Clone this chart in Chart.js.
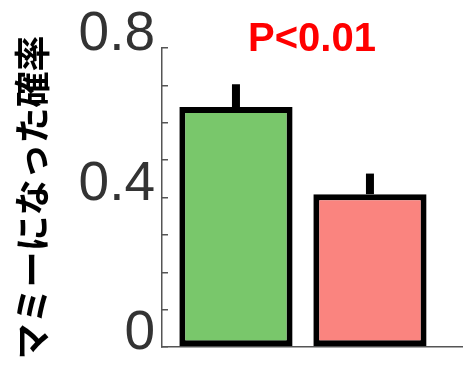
<!DOCTYPE html>
<html>
<head>
<meta charset="utf-8">
<script src="https://cdn.jsdelivr.net/npm/chart.js@4"></script>
<style>
  html, body { margin: 0; padding: 0; background: #fff; }
  #wrap { width: 471px; height: 368px; }
</style>
</head>
<body>
<div id="wrap"><canvas id="chart"></canvas></div>
<script>
// data
const groups = ['group1', 'group2'];
const means = [0.642, 0.409];
const errors = [0.061, 0.055];
const barColors = ['#79c76b', '#fa847f'];
const tickValues = [0, 0.4, 0.8];
const tickLabels = ['0', '0.4', '0.8'];
const yTitle = 'マミーになった確率';
const titleText = 'P<0.01';

// simple error bars drawn above each bar
const errorBars = {
  id: 'errorBars',
  afterDatasetsDraw(chart) {
    const ctx = chart.ctx;
    const yScale = chart.scales.y;
    const meta = chart.getDatasetMeta(0);
    ctx.save();
    ctx.strokeStyle = '#000';
    ctx.lineWidth = 8;
    meta.data.forEach((bar, i) => {
      const top = yScale.getPixelForValue(means[i] + errors[i]);
      ctx.beginPath();
      ctx.moveTo(bar.x, bar.y);
      ctx.lineTo(bar.x, top);
      ctx.stroke();
    });
    ctx.restore();
  }
};

const ctx = document.getElementById('chart').getContext('2d');
new Chart(ctx, {
  type: 'bar',
  data: {
    datasets: [{
      label: 'rate',
      data: groups.map((g, i) => ({ x: i, y: means[i] })),
      backgroundColor: barColors,
      borderColor: '#000',
      borderWidth: 6,
      borderSkipped: false,
      barPercentage: 0.845,
      categoryPercentage: 1
    }]
  },
  options: {
    responsive: true,
    maintainAspectRatio: false,
    animation: false,
    layout: { padding: { left: 0, right: 9, top: 0, bottom: 21 } },
    plugins: {
      legend: { display: false },
      tooltip: { enabled: false },
      title: {
        display: true,
        text: titleText,
        color: '#ff0000',
        fullSize: false,
        font: { family: 'Liberation Sans', size: 40, weight: 'bold' },
        padding: { top: 16, bottom: -16 }
      }
    },
    scales: {
      x: {
        type: 'linear',
        min: -0.552,
        max: 1.687,
        offset: false,
        afterBuildTicks(scale) {
          scale.ticks = groups.map((g, i) => ({ value: i }));
        },
        grid: { display: false, drawTicks: false },
        ticks: { display: false },
        border: { display: true, color: '#555', width: 1.5 }
      },
      y: {
        min: 0,
        max: 0.8,
        afterFit(scale) {
          scale.width = 162;
          scale.paddingTop = 0;
          scale.paddingBottom = 0;
        },
        grid: {
          drawOnChartArea: false,
          drawTicks: true,
          tickLength: -6,
          color: '#555',
          lineWidth: 1.5
        },
        border: { display: true, color: '#555', width: 1.5 },
        ticks: {
          stepSize: 0.1,
          autoSkip: false,
          padding: 13,
          labelOffset: -13,
          color: '#333',
          font: { family: 'Liberation Sans', size: 55 },
          callback(v) {
            const k = tickValues.findIndex(t => Math.abs(t - v) < 1e-9);
            return k >= 0 ? tickLabels[k] : '';
          }
        },
        title: {
          display: true,
          text: yTitle,
          color: '#000',
          font: { family: 'Noto Sans CJK JP', size: 36, weight: 'bold' },
          padding: { top: 11, bottom: 0 }
        }
      }
    }
  },
  plugins: [errorBars]
});
</script>
</body>
</html>
